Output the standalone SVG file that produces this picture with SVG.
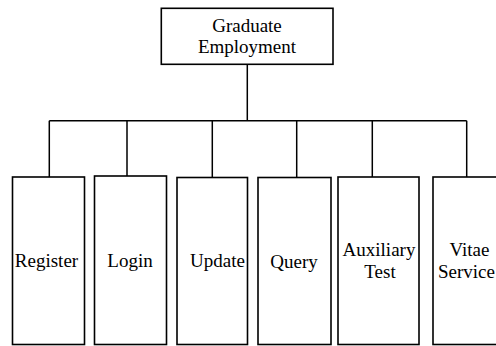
<svg xmlns="http://www.w3.org/2000/svg" width="496" height="346" viewBox="0 0 496 346">
<style>
.box{fill:#fff;stroke:#000;stroke-width:1.6}
.ln{fill:none;stroke:#000;stroke-width:1.5}
text{font-family:"Liberation Serif","Times New Roman",serif;font-size:19px;fill:#000;text-anchor:middle}
</style>
<rect width="496" height="346" fill="#fff"/>
<g id="connectors">
<path class="ln" d="M247.3 64.3V120.7M49.3 120.7H466.7M49.3 120.7V177M127 120.7V176M212.3 120.7V177.5M296.7 120.7V177.5M372.3 120.7V177M466.7 120.7V177"/>
</g>
<g id="graduate-employment">
<rect class="box" x="161.3" y="8.3" width="171.7" height="56"/>
<text x="247" y="31.7">Graduate</text>
<text x="247" y="53.3">Employment</text>
</g>
<g id="register">
<rect class="box" x="12.5" y="177" width="72" height="167.5"/>
<text x="46.5" y="266.7">Register</text>
</g>
<g id="login">
<rect class="box" x="94.5" y="176" width="72" height="168.5"/>
<text x="130" y="267.3">Login</text>
</g>
<g id="update">
<rect class="box" x="177" y="177.5" width="70.5" height="167"/>
<text x="217.5" y="267.3">Update</text>
</g>
<g id="query">
<rect class="box" x="258" y="177.5" width="73" height="167"/>
<text x="294" y="268.3">Query</text>
</g>
<g id="auxiliary-test">
<rect class="box" x="338" y="177" width="81" height="167.5"/>
<text x="379" y="256">Auxiliary</text>
<text x="380" y="278.3">Test</text>
</g>
<g id="vitae-service">
<rect class="box" x="433" y="177" width="76" height="167.5"/>
<text x="469.5" y="256">Vitae</text>
<text x="466.5" y="278.3">Service</text>
</g>
</svg>
